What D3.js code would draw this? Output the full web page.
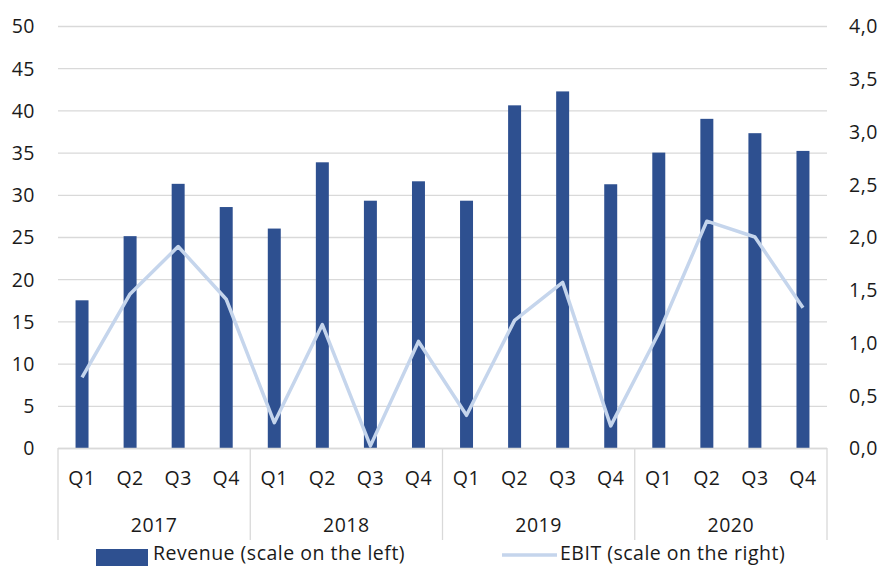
<!DOCTYPE html>
<html>
<head>
<meta charset="utf-8">
<script src="https://cdn.jsdelivr.net/npm/d3@7"></script>
<style>
	body { margin: 0; background: #fff; }
	svg text { font-family: 'Open Sans', sans-serif; fill: #1a1a1a; letter-spacing: 0.5px; }
</style>
</head>
<body>
<svg id="chart" width="880" height="566"></svg>
<script>
const years = ['2017', '2018', '2019', '2020']
const quarters = ['Q1', 'Q2', 'Q3', 'Q4']
const revenue = [17.5, 25.1, 31.3, 28.55, 26.0, 33.85, 29.3, 31.6, 29.3, 40.6, 42.25, 31.25, 35.0, 39.0, 37.3, 35.2]
const ebit = [0.67, 1.46, 1.91, 1.41, 0.24, 1.17, 0.02, 1.01, 0.31, 1.21, 1.57, 0.21, 1.09, 2.15, 2.0, 1.33]
const leftTicks = [0, 5, 10, 15, 20, 25, 30, 35, 40, 45, 50]
const rightTicks = [0, 0.5, 1, 1.5, 2, 2.5, 3, 3.5, 4]
const legendLabels = ['Revenue (scale on the left)', 'EBIT (scale on the right)']

const barColor = '#2E5090', lineColor = '#C5D5EC', gridColor = '#D9D9D9'
const padding = { left: 58, right: 827, top: 26, bottom: 448 }
const fs = 19.5

// one key per quarter, e.g. 2017-Q1
const keys = years.flatMap(y => quarters.map(q => y + '-' + q))

const svg = d3.select('#chart')

const x = d3.scaleBand().domain(keys).range([padding.left, padding.right]).padding(0)
const yL = d3.scaleLinear().domain([0, 50]).range([padding.bottom, padding.top])
const yR = d3.scaleLinear().domain([0, 4]).range([padding.bottom, padding.top])

// gridlines
svg.append('g')
	.selectAll('line')
	.data(leftTicks)
	.join('line')
	.attr('x1', padding.left).attr('x2', padding.right)
	.attr('y1', d => yL(d) + 0.5).attr('y2', d => yL(d) + 0.5)
	.attr('stroke', gridColor).attr('stroke-width', 1.3)

// left axis
const axL = svg.append('g')
	.attr('transform', `translate(${padding.left - 23},0)`)
	.call(d3.axisLeft(yL).tickValues(leftTicks).tickSize(0).tickPadding(0))
axL.select('.domain').remove()
axL.selectAll('text').attr('font-size', fs).attr('dy', '0.35em')

// right axis
const fmt = d => d3.format('.1f')(d).replace('.', ',')
const axR = svg.append('g')
	.attr('transform', `translate(${padding.right + 22},0)`)
	.call(d3.axisRight(yR).tickValues(rightTicks).tickSize(0).tickPadding(0).tickFormat(fmt))
axR.select('.domain').remove()
axR.selectAll('text').attr('font-size', fs).attr('dy', '0.35em')

// bars
const barW = x.bandwidth() * 0.27
svg.append('g')
	.selectAll('rect')
	.data(revenue)
	.join('rect')
	.attr('x', (d, i) => x(keys[i]) + x.bandwidth() / 2 - barW / 2)
	.attr('y', d => yL(d))
	.attr('width', barW)
	.attr('height', d => yL(0) - yL(d))
	.attr('fill', barColor)

// EBIT line
const line = d3.line()
	.x((d, i) => x(keys[i]) + x.bandwidth() / 2)
	.y(d => yR(d))
svg.append('path')
	.datum(ebit)
	.attr('d', line)
	.attr('fill', 'none')
	.attr('stroke', lineColor)
	.attr('stroke-width', 3.5)
	.attr('stroke-linejoin', 'round')

// category axis: quarters + years with separators
const sepBottom = 540
svg.append('line')
	.attr('x1', padding.left).attr('x2', padding.right)
	.attr('y1', padding.bottom + 0.5).attr('y2', padding.bottom + 0.5)
	.attr('stroke', gridColor).attr('stroke-width', 1.3)

const yearW = x.bandwidth() * quarters.length
svg.append('g')
	.selectAll('line')
	.data(d3.range(years.length + 1))
	.join('line')
	.attr('x1', i => padding.left + i * yearW).attr('x2', i => padding.left + i * yearW)
	.attr('y1', padding.bottom).attr('y2', sepBottom)
	.attr('stroke', gridColor).attr('stroke-width', 1.3)

svg.append('g')
	.selectAll('text')
	.data(keys)
	.join('text')
	.attr('x', d => x(d) + x.bandwidth() / 2)
	.attr('y', 485)
	.attr('text-anchor', 'middle')
	.attr('font-size', fs)
	.text(d => d.split('-')[1])

svg.append('g')
	.selectAll('text')
	.data(years)
	.join('text')
	.attr('x', (d, i) => padding.left + i * yearW + yearW / 2)
	.attr('y', 532)
	.attr('text-anchor', 'middle')
	.attr('font-size', fs)
	.text(d => d)

// legend (kept fully inside the frame)
const lg = svg.append('g')
lg.append('rect').attr('x', 96).attr('y', 549).attr('width', 52).attr('height', 17).attr('fill', barColor)
lg.append('text').attr('x', 153).attr('y', 560).attr('font-size', fs).text(legendLabels[0])
lg.append('line').attr('x1', 502).attr('x2', 557).attr('y1', 555).attr('y2', 555)
	.attr('stroke', lineColor).attr('stroke-width', 3.5)
lg.append('text').attr('x', 560).attr('y', 560).attr('font-size', fs).text(legendLabels[1])
</script>
</body>
</html>
